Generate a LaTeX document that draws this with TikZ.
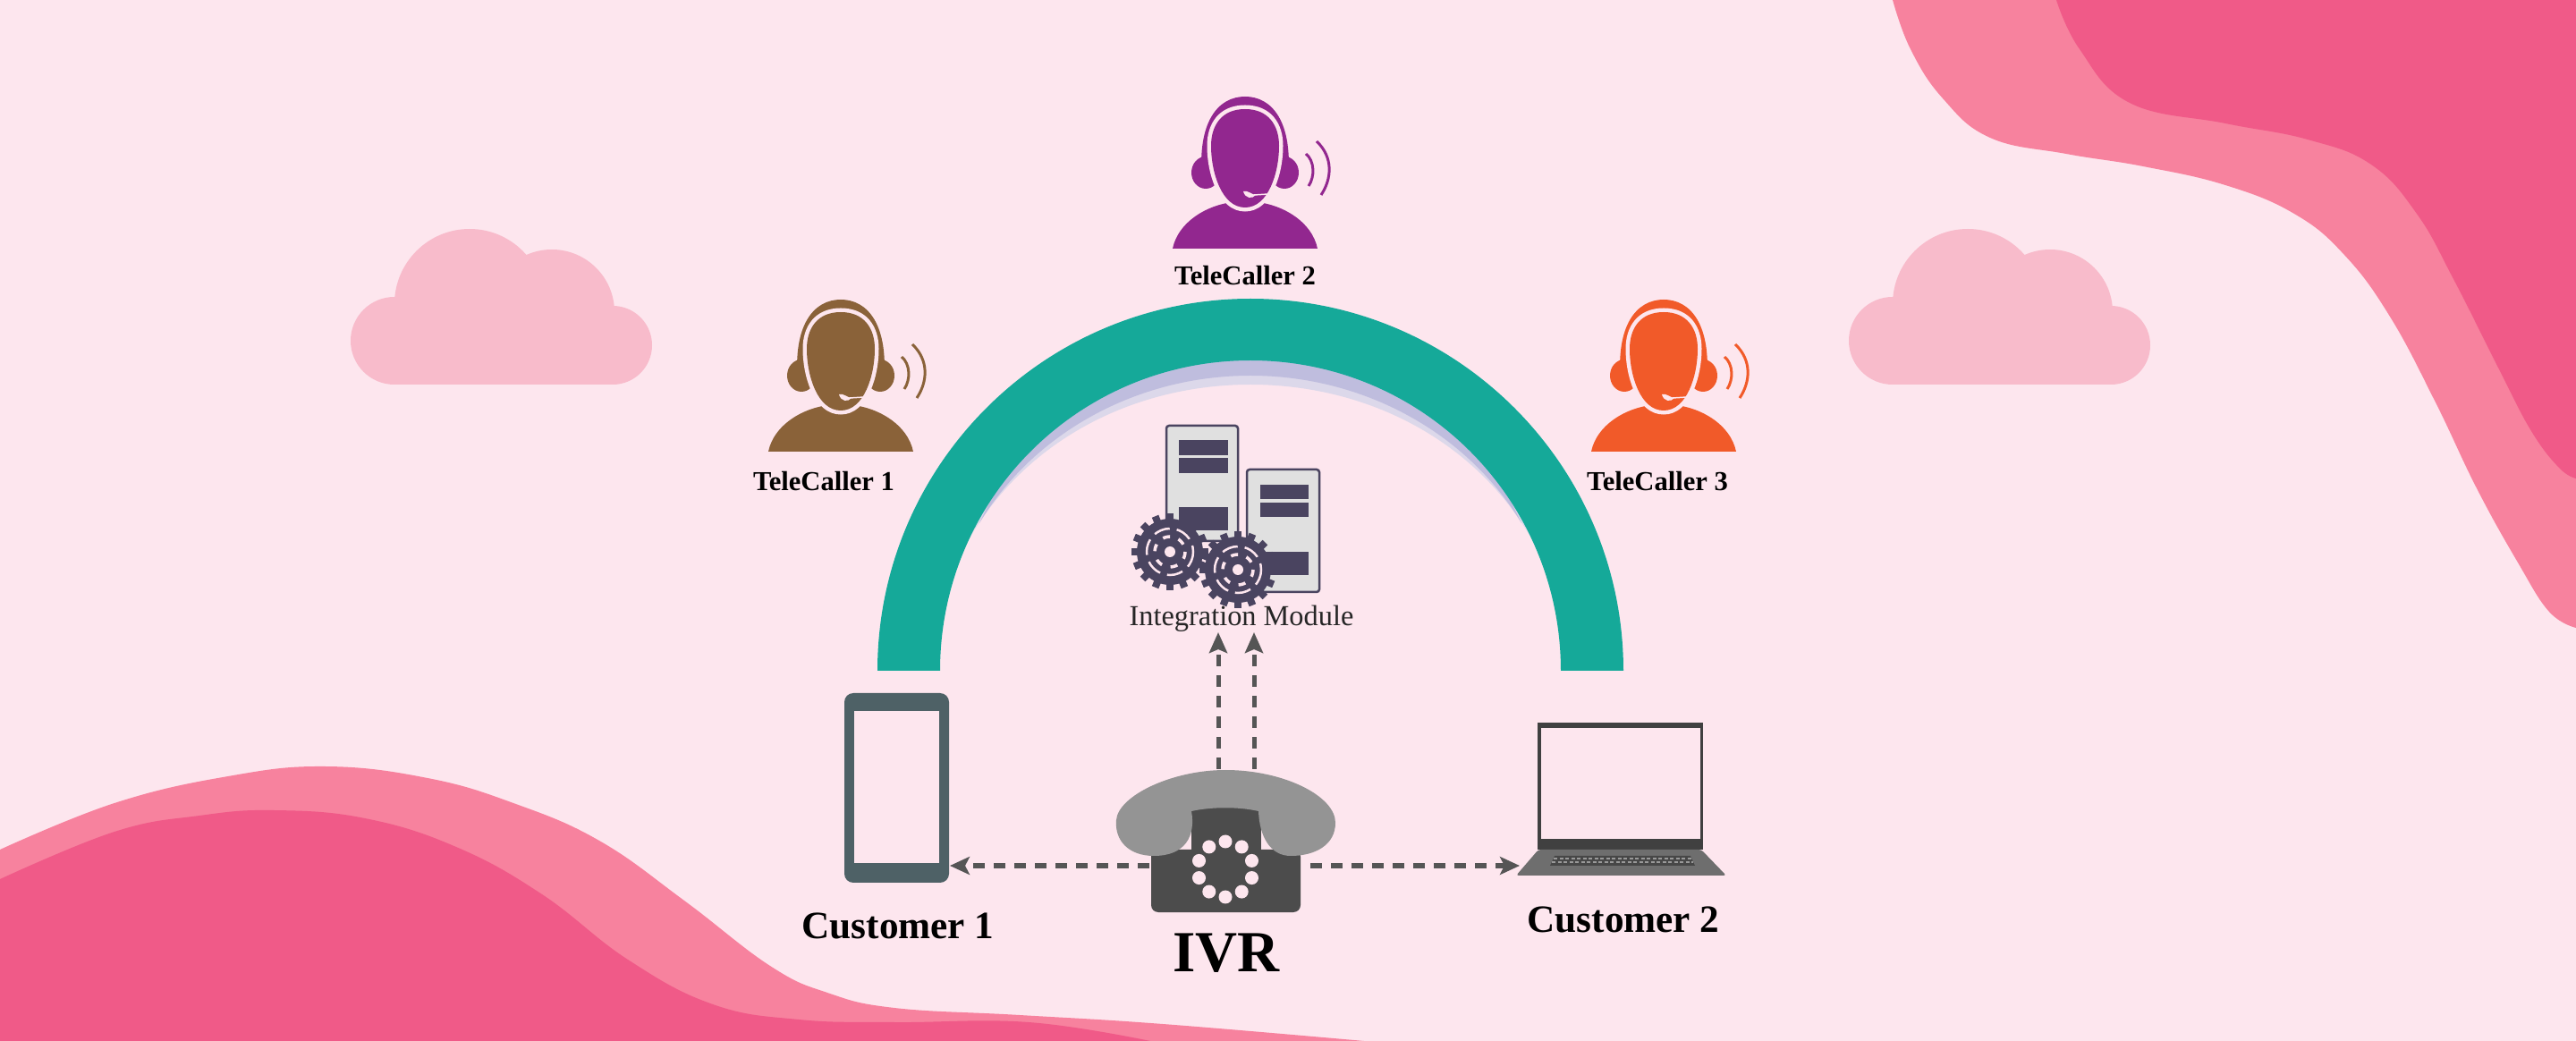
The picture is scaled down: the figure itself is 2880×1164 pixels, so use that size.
\documentclass[tikz,border=0pt]{standalone}
\usepackage{fontspec}
\setmainfont{Liberation Serif}
\usetikzlibrary{arrows.meta}
\definecolor{bgpink}{HTML}{FDE6EE}
\definecolor{wavelt}{HTML}{F7829E}
\definecolor{wavedk}{HTML}{F05A88}
\definecolor{cloudpink}{HTML}{F8BBCB}
\definecolor{archteal}{HTML}{15A999}
\definecolor{archshade}{HTML}{BFBDDE}
\definecolor{archfade}{HTML}{DCD8EA}
\definecolor{slate}{HTML}{4A4460}
\definecolor{srvgrey}{HTML}{E0E0E0}
\definecolor{arrowgrey}{HTML}{555555}
\definecolor{tabletgrey}{HTML}{4E6166}
\definecolor{tcbrown}{HTML}{8A6239}
\definecolor{tcpurple}{HTML}{92278F}
\definecolor{tcorange}{HTML}{F15A29}
\tikzset{
  smalllabel/.style={font=\fontsize{8.7}{10}\selectfont\bfseries,text=black,inner sep=0pt},
  custlabel/.style={font=\fontsize{12.3}{14}\selectfont\bfseries,text=black,inner sep=0pt},
  dashup/.style={draw=arrowgrey,line width=0.05cm,dash pattern=on 0.13cm off 0.10cm,-{Stealth[length=0.23cm,width=0.2cm,inset=0.04cm]}},
  dashside/.style={draw=arrowgrey,line width=0.065cm,dash pattern=on 0.13cm off 0.10cm,-{Stealth[length=0.22cm,width=0.2cm,inset=0.05cm]}},
}
\def\cloudshape#1{%
  \begin{scope}[shift={(#1,0)}]
    \fill[cloudpink] (441,381) circle (49);
    \fill[cloudpink] (525,340) circle (84);
    \fill[cloudpink] (617,349) circle (70);
    \fill[cloudpink] (685,386) circle (44);
    \fill[cloudpink] (441,378) rectangle (685,430);
  \end{scope}}
\def\telecaller#1#2#3{%
  \begin{scope}[shift={(#1,#2)}]
    \fill[#3] (-81,0) .. controls (-75,-30) and (-40,-53) .. (0,-53) .. controls (40,-53) and (75,-30) .. (81,0) -- cycle;
    \fill[#3] (-44,-85) ellipse (16 and 18);
    \fill[#3] (44,-85) ellipse (16 and 18);
    \fill[#3] (-48,-76) .. controls (-54,-142) and (-30,-170) .. (0,-170) .. controls (30,-170) and (54,-142) .. (48,-76) -- cycle;
    \def\headpath{(0,-156) .. controls (26,-156) and (38,-138) .. (38,-115) .. controls (38,-85) and (26,-46) .. (0,-46) .. controls (-26,-46) and (-38,-85) .. (-38,-115) .. controls (-38,-138) and (-26,-156) .. (0,-156) -- cycle}
    \draw[bgpink,line width=0.09cm,fill=bgpink] \headpath;
    \fill[#3] \headpath;
    \fill[bgpink] (-2,-64) .. controls (2,-66) and (8,-60) .. (12,-60) .. controls (8,-55) and (0,-56) .. (-2,-64) -- cycle;
    \draw[bgpink,line width=0.015cm] (10,-60) -- (26,-61);
    \draw[#3,line width=0.03cm] (68,-106) .. controls (78,-98) and (78,-80) .. (71,-70);
    \draw[#3,line width=0.03cm] (80,-120) .. controls (99,-102) and (97,-78) .. (85,-60);
  \end{scope}}
\def\servergear#1#2{%
  \begin{scope}[shift={(#1,#2)}]
    \foreach \k in {0,22.5,...,337.5}
      \draw[slate,line width=0.08cm] (\k:30) -- (\k:43);
    \fill[slate] (0,0) circle (37);
    \draw[bgpink,line width=0.025cm,dash pattern=on 0.18cm off 0.08cm] (0,0) circle (26);
    \draw[bgpink,line width=0.035cm,dash pattern=on 0.08cm off 0.1cm] (0,0) circle (17);
    \fill[bgpink] (0,0) circle (6);
  \end{scope}}
\begin{document}
\begin{tikzpicture}[x=0.01cm,y=-0.01cm]
  \useasboundingbox (0,0) rectangle (2880,1164);
  \fill[bgpink] (0,0) rectangle (2880,1164);
  % corner waves
  \fill[wavelt] (2116,0) -- plot[smooth,tension=0.7] coordinates {(2116,0) (2136,55) (2172,110) (2225,154) (2310,172) (2396,186) (2488,207) (2565,239) (2621,285) (2672,354) (2723,450) (2769,546) (2815,629) (2850,684) (2880,702)} -- (2880,0) -- cycle;
  \fill[wavedk] (2299,0) -- plot[smooth,tension=0.7] coordinates {(2299,0) (2325,55) (2381,115) (2488,138) (2580,156) (2651,184) (2702,239) (2743,312) (2794,413) (2830,482) (2861,523) (2880,535)} -- (2880,0) -- cycle;
  \fill[wavelt] (0,1164) -- plot[smooth,tension=0.7] coordinates {(0,950) (128,898) (255,868) (364,857) (478,870) (574,898) (670,940) (765,1007) (861,1080) (925,1110) (1000,1127) (1140,1135) (1300,1145) (1525,1164)} -- cycle;
  \fill[wavedk] (0,1164) -- plot[smooth,tension=0.7] coordinates {(0,983) (128,930) (223,912) (306,906) (408,915) (510,947) (606,1000) (702,1073) (797,1123) (893,1140) (1000,1143) (1150,1143) (1286,1164)} -- cycle;
  % clouds
  \cloudshape{0}
  \cloudshape{1675}
  % arch
  \fill[archfade] (1085,600) .. controls (1150,490) and (1270,430) .. (1398,430) .. controls (1526,430) and (1646,490) .. (1711,600) .. controls (1640,450) and (1520,380) .. (1398,380) .. controls (1276,380) and (1156,450) .. (1085,600) -- cycle;
  \fill[archshade] (1095,585) .. controls (1155,485) and (1270,420) .. (1398,420) .. controls (1526,420) and (1641,485) .. (1701,585) .. controls (1640,450) and (1520,380) .. (1398,380) .. controls (1276,380) and (1156,450) .. (1095,585) -- cycle;
  \fill[archteal] (981,750) .. controls (981,520) and (1168,334) .. (1398,334) .. controls (1628,334) and (1815,520) .. (1815,750) -- (1745,750) .. controls (1745,558) and (1590,403) .. (1398,403) .. controls (1206,403) and (1051,558) .. (1051,750) -- cycle;
  % telecallers
  \telecaller{940}{505}{tcbrown}
  \telecaller{1392}{278}{tcpurple}
  \telecaller{1860}{505}{tcorange}
  \node[smalllabel] (tcone) at (921,538) {TeleCaller 1};
  \node[smalllabel] (tctwo) at (1392,308) {TeleCaller 2};
  \node[smalllabel] (tcthree) at (1853,538) {TeleCaller 3};
  % integration module
  \draw[slate,line width=0.025cm,fill=srvgrey,rounded corners=0.03cm] (1304,476) rectangle (1384,605);
  \draw[slate,line width=0.025cm,fill=srvgrey,rounded corners=0.03cm] (1394,525) rectangle (1475,662);
  \fill[slate] (1318,492) rectangle (1373,509);
  \fill[slate] (1318,512) rectangle (1373,529);
  \fill[slate] (1318,567) rectangle (1373,593);
  \fill[slate] (1409,542) rectangle (1463,558);
  \fill[slate] (1409,562) rectangle (1463,578);
  \fill[slate] (1409,617) rectangle (1463,643);
  \servergear{1308}{617}
  \servergear{1384}{637}
  \node[font=\fontsize{9.2}{11}\selectfont,text=black!85,inner sep=0pt] (module) at (1388,692) {Integration Module};
  % tablet
  \fill[tabletgrey,rounded corners=0.1cm] (944,775) rectangle (1061,987);
  \fill[bgpink] (955,795) rectangle (1050,965);
  \node[custlabel] (custone) at (1004,1035) {Customer 1};
  % laptop
  \fill[black!75] (1719,808) rectangle (1904,950);
  \fill[bgpink] (1723,814) rectangle (1901,938);
  \fill[black!57,rounded corners=0.03cm] (1720,950) -- (1902,950) -- (1930,979) -- (1695,979) -- cycle;
  \fill[black!72] (1738,957) -- (1890,957) -- (1895,968) -- (1733,968) -- cycle;
  \draw[black!40,line width=0.012cm,dash pattern=on 0.04cm off 0.025cm] (1737,960) -- (1891,960);
  \draw[black!40,line width=0.012cm,dash pattern=on 0.04cm off 0.025cm] (1735,964) -- (1893,964);
  \node[custlabel] (custtwo) at (1815,1028) {Customer 2};
  % ivr telephone
  \fill[black!70,rounded corners=0.08cm] (1287,950) rectangle (1454,1020);
  \fill[black!70] (1332,898) rectangle (1410,960);
  \fill[black!42] (1248,917) .. controls (1250,890) and (1310,861) .. (1370,861) .. controls (1435,861) and (1493,890) .. (1493,920) .. controls (1493,945) and (1470,957) .. (1443,957) .. controls (1420,957) and (1408,935) .. (1407,907) .. controls (1385,902) and (1355,902) .. (1332,907) .. controls (1337,935) and (1325,957) .. (1290,957) .. controls (1262,957) and (1246,940) .. (1248,917) -- cycle;
  \foreach \k in {18,54,...,342}
    \fill[bgpink] ([shift={(\k:31)}]1370,972) circle (7.5);
  \node[font=\fontsize{18.5}{20}\selectfont\bfseries,text=black,inner sep=0pt] (ivr) at (1371,1066) {IVR};
  % arrows
  \coordinate (ivrtopa) at (1362,860);
  \coordinate (ivrtopb) at (1402,860);
  \coordinate (moda) at (1362,707);
  \coordinate (modb) at (1402,707);
  \coordinate (ivrleft) at (1285,968);
  \coordinate (ivrright) at (1465,968);
  \coordinate (tabletend) at (1062,968);
  \coordinate (laptopend) at (1699,968);
  \draw[dashup] (ivrtopa) -- (moda);
  \draw[dashup] (ivrtopb) -- (modb);
  \draw[dashside] (ivrleft) -- (tabletend);
  \draw[dashside] (ivrright) -- (laptopend);
\end{tikzpicture}
\end{document}
